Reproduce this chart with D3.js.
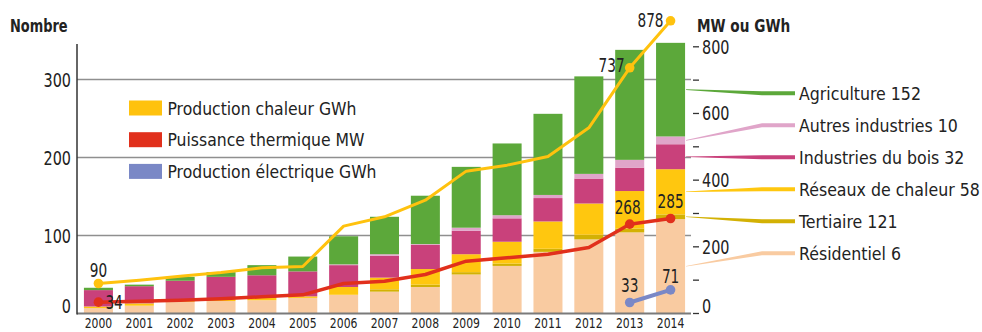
<!DOCTYPE html>
<html lang="fr">
<head>
<meta charset="utf-8">
<script src="https://cdn.jsdelivr.net/npm/d3@7"></script>
<style>
  html, body { margin: 0; padding: 0; background: #fff; }
  svg { display: block; }
  text { font-family: "DejaVu Sans Condensed", "DejaVu Sans", sans-serif; font-stretch: condensed; fill: #222; }
</style>
</head>
<body>
<svg id="chart" width="982" height="332"></svg>
<script>
// Années
const years = ["2000","2001","2002","2003","2004","2005","2006","2007","2008","2009","2010","2011","2012","2013","2014"];

// Nombre d'installations par secteur (axe de gauche)
const residentiel   = [7, 10, 15, 16, 17, 20, 24, 28, 34, 50, 61, 79, 95, 104, 121];
const tertiaire     = [0, 0, 0, 0, 0, 0, 0, 3, 3, 3, 3, 4, 6, 5, 6];
const reseaux       = [2, 3, 3, 3, 3, 2, 10, 15, 20, 23, 28, 35, 40, 48, 58];
const industriesBois = [21, 22, 24, 28, 29, 32, 28, 28, 31, 30, 30, 30, 32, 30, 32];
const autresIndustries = [0, 0, 0, 0, 0, 0, 1, 2, 1, 4, 4, 4, 6, 10, 10];
const agriculture   = [3, 2, 5, 6, 13, 19, 36, 48, 62, 78, 92, 104, 125, 141, 120];

// Courbes (axe de droite, MW ou GWh)
const productionChaleur = [90, 100, 112, 123, 137, 141, 262, 290, 340, 427, 445, 471, 557, 737, 878];
const puissanceThermique = [34, 37, 40, 44, 50, 56, 90, 97, 117, 157, 167, 178, 198, 268, 285];
const productionElectrique = [null, null, null, null, null, null, null, null, null, null, null, null, null, 33, 71];

// Étiquettes de secteurs (du haut vers le bas)
const sectorLabels = ["Agriculture 152", "Autres industries 10", "Industries du bois 32", "Réseaux de chaleur 58", "Tertiaire 121", "Résidentiel 6"];
const legendLabels = ["Production chaleur GWh", "Puissance thermique MW", "Production électrique GWh"];
const leftTicks = [0, 100, 200, 300];
const rightTicks = [0, 100, 200, 300, 400, 500, 600, 700, 800];
const rightTickLabels = [0, 200, 400, 600, 800];

const sectorKeys = ["residentiel", "tertiaire", "reseaux", "bois", "autres", "agriculture"];
const sectorColors = {
  residentiel: "#f9cba1",
  tertiaire: "#d3b104",
  reseaux: "#ffc70f",
  bois: "#c9417b",
  autres: "#e0a5c9",
  agriculture: "#5ca83a"
};
const colChaleur = "#ffc20e", colPuissance = "#e1301c", colElec = "#7a88c6";

const table = years.map((y, i) => ({
  year: y,
  residentiel: residentiel[i],
  tertiaire: tertiaire[i],
  reseaux: reseaux[i],
  bois: industriesBois[i],
  autres: autresIndustries[i],
  agriculture: agriculture[i]
}));

const svg = d3.select("#chart");
const baseY = 313.5;

const x = d3.scaleBand().domain(years).range([78, 691]).paddingInner(0.29).paddingOuter(0.145);
const yL = d3.scaleLinear().domain([0, 300]).range([baseY, 79.5]);
const yR = d3.scaleLinear().domain([0, 800]).range([baseY, 46.8]);
const cx = d => x(d) + x.bandwidth() / 2;

// Texte légèrement resserré horizontalement (police étroite)
function narrow(sel, fx, fy, sx) {
  return sel.attr("transform", (d, i) => `translate(${fx(d, i)},${fy(d, i)}) scale(${sx},1)`);
}

// Quadrillage
svg.append("g").selectAll("line").data(leftTicks.filter(d => d > 0)).join("line")
  .attr("x1", 77).attr("x2", 691)
  .attr("y1", d => yL(d)).attr("y2", d => yL(d))
  .attr("stroke", "#8f8f8f").attr("stroke-width", 1.6);

// Barres empilées
const stack = d3.stack().keys(sectorKeys)(table);
svg.append("g").selectAll("g").data(stack).join("g")
  .attr("fill", s => sectorColors[s.key])
  .selectAll("rect").data(s => s).join("rect")
  .attr("x", d => x(d.data.year))
  .attr("width", x.bandwidth())
  .attr("y", d => yL(d[1]))
  .attr("height", d => yL(d[0]) - yL(d[1]));

// Ligne de base et axe gauche
svg.append("line").attr("x1", 77).attr("x2", 691).attr("y1", baseY).attr("y2", baseY)
  .attr("stroke", "#7a7a7a").attr("stroke-width", 2);
svg.append("line").attr("x1", 77).attr("x2", 77).attr("y1", 44).attr("y2", baseY + 1)
  .attr("stroke", "#333").attr("stroke-width", 1.5);

narrow(svg.append("g").selectAll("text").data(leftTicks).join("text"),
    () => 71, d => d === 0 ? baseY - 0.5 : yL(d) + 7, 0.8)
  .attr("text-anchor", "end")
  .attr("font-size", 20)
  .attr("fill", "#333")
  .text(d => d);

// Axe droit
svg.append("g").selectAll("line").data(rightTicks).join("line")
  .attr("x1", 693).attr("x2", 699)
  .attr("y1", d => yR(d)).attr("y2", d => yR(d))
  .attr("stroke", "#333").attr("stroke-width", 1.3);
narrow(svg.append("g").selectAll("text").data(rightTickLabels).join("text"),
    () => 702, d => d === 0 ? baseY - 0.5 : yR(d) + 7, 0.8)
  .attr("font-size", 20)
  .attr("fill", "#333")
  .text(d => d);

// Années
narrow(svg.append("g").selectAll("text").data(years).join("text"),
    d => cx(d), () => 328.3, 0.86)
  .attr("text-anchor", "middle")
  .attr("font-size", 14)
  .attr("fill", "#333")
  .text(d => d);

// Titres d'axes
narrow(svg.append("text").datum(0), () => 10, () => 32.3, 0.8)
  .attr("font-size", 18).attr("font-weight", "bold").text("Nombre");
narrow(svg.append("text").datum(0), () => 697, () => 32.3, 0.82)
  .attr("font-size", 18.5).attr("font-weight", "bold").text("MW ou GWh");

// Courbes
const line = d3.line()
  .defined(d => d.v != null)
  .x(d => cx(d.year))
  .y(d => yR(d.v));

function series(values) { return years.map((y, i) => ({ year: y, v: values[i] })); }

svg.append("path").datum(series(productionChaleur))
  .attr("d", line).attr("fill", "none").attr("stroke", colChaleur)
  .attr("stroke-width", 3).attr("stroke-linejoin", "round");
svg.append("path").datum(series(puissanceThermique))
  .attr("d", line).attr("fill", "none").attr("stroke", colPuissance)
  .attr("stroke-width", 3.5).attr("stroke-linejoin", "round");
svg.append("path").datum(series(productionElectrique))
  .attr("d", line).attr("fill", "none").attr("stroke", colElec)
  .attr("stroke-width", 4).attr("stroke-linecap", "round");

// Points et valeurs affichées
const valueLabels = [
  { s: productionChaleur, i: 0, c: colChaleur, dx: 0, dy: -6, anchor: "middle" },
  { s: puissanceThermique, i: 0, c: colPuissance, dx: 7, dy: 6.5, anchor: "start" },
  { s: productionChaleur, i: 13, c: colChaleur, dx: -5, dy: 4.5, anchor: "end" },
  { s: productionChaleur, i: 14, c: colChaleur, dx: -7, dy: 6, anchor: "end" },
  { s: puissanceThermique, i: 13, c: colPuissance, dx: -2, dy: -10, anchor: "middle" },
  { s: puissanceThermique, i: 14, c: colPuissance, dx: 0, dy: -10.5, anchor: "middle" },
  { s: productionElectrique, i: 13, c: colElec, dx: 0, dy: -10.5, anchor: "middle" },
  { s: productionElectrique, i: 14, c: colElec, dx: 0, dy: -6.5, anchor: "middle" }
];
svg.append("g").selectAll("circle").data(valueLabels).join("circle")
  .attr("cx", d => cx(years[d.i])).attr("cy", d => yR(d.s[d.i]))
  .attr("r", 4.8).attr("fill", d => d.c);
narrow(svg.append("g").selectAll("text").data(valueLabels).join("text"),
    d => cx(years[d.i]) + d.dx, d => yR(d.s[d.i]) + d.dy, 0.8)
  .attr("text-anchor", d => d.anchor)
  .attr("font-size", 19)
  .attr("fill", "#000")
  .text(d => d.s[d.i]);

// Légende des courbes
const legend = svg.append("g").selectAll("g").data(legendLabels).join("g")
  .attr("transform", (d, i) => `translate(129,${108 + i * 31.7})`);
legend.append("rect").attr("x", 0).attr("y", -7.5).attr("width", 33).attr("height", 15)
  .attr("fill", (d, i) => [colChaleur, colPuissance, colElec][i]);
narrow(legend.append("text"), () => 38.5, () => 6.5, 0.94)
  .attr("font-size", 18.5).attr("fill", "#2a2a2a").text(d => d);

// Étiquettes des secteurs, reliées à la dernière barre
const last = stack.map(s => ({ key: s.key, y0: s[s.length - 1][0], y1: s[s.length - 1][1] })).reverse();
const barRight = x(years[years.length - 1]) + x.bandwidth();
const lab = svg.append("g").selectAll("g").data(last).join("g");
lab.append("path")
  .attr("fill", d => sectorColors[d.key])
  .attr("d", (d, i) => {
    const m = yL((d.y0 + d.y1) / 2);
    const ly = 93.3 + i * 32;
    return `M${barRight + 1},${m - 0.3}L762,${ly - 2}L795,${ly - 2}L795,${ly + 2}L762,${ly + 2}L${barRight + 1},${m + 0.3}Z`;
  });
narrow(lab.append("text"), () => 799, (d, i) => 93.3 + i * 32 + 6.6, 0.96)
  .attr("font-size", 18.3).attr("fill", "#2a2a2a")
  .text((d, i) => sectorLabels[i]);
</script>
</body>
</html>
